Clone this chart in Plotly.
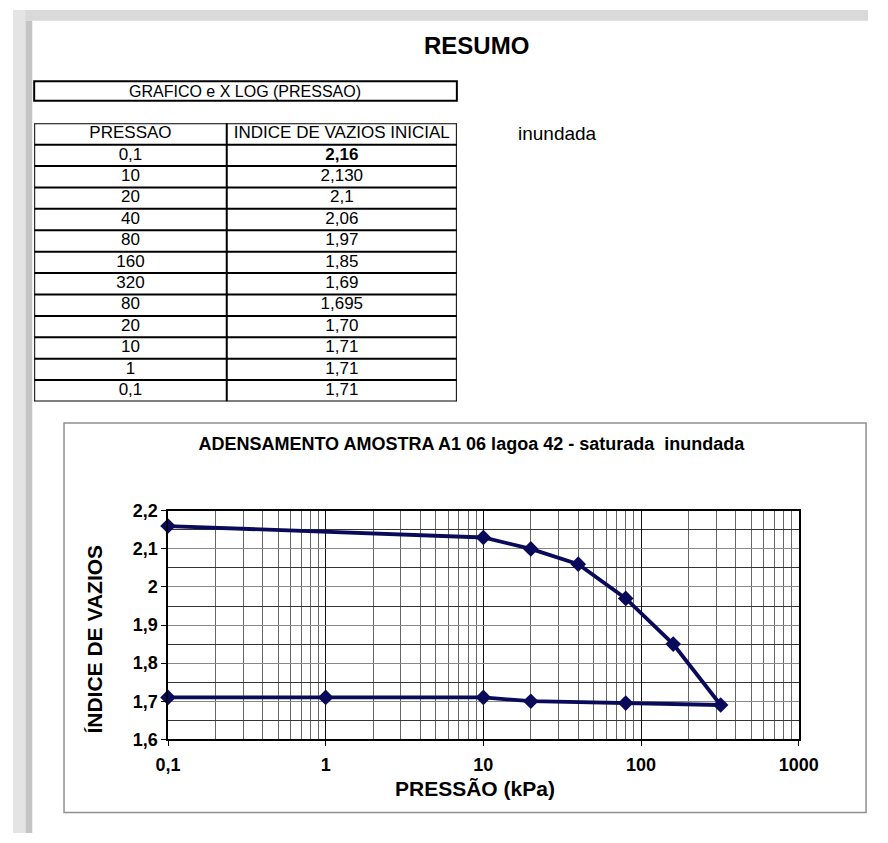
import plotly.graph_objects as go

# ---- data ----
pressao = [0.1, 10, 20, 40, 80, 160, 320, 80, 20, 10, 1, 0.1]
indice = [2.16, 2.13, 2.1, 2.06, 1.97, 1.85, 1.69, 1.695, 1.70, 1.71, 1.71, 1.71]
pressao_txt = ["0,1", "10", "20", "40", "80", "160", "320", "80", "20", "10", "1", "0,1"]
indice_txt = ["<b>2,16</b>", "2,130", "2,1", "2,06", "1,97", "1,85", "1,69", "1,695", "1,70", "1,71", "1,71", "1,71"]
table_header = ["PRESSAO", "INDICE DE VAZIOS INICIAL"]
x_ticks = [0.1, 1, 10, 100, 1000]
x_ticktext = ["0,1", "1", "10", "100", "1000"]
x_minor = [m * d for d in [0.1, 1, 10, 100] for m in range(2, 10)]
y_ticks = [1.6, 1.7, 1.8, 1.9, 2.0, 2.1, 2.2]
y_ticktext = ["1,6", "1,7", "1,8", "1,9", "2", "2,1", "2,2"]
y_minor = [1.65, 1.75, 1.85, 1.95, 2.05, 2.15]

W, H = 888, 843
def px(x): return x / W
def py(y): return 1 - y / H

ARIAL = "Liberation Sans, Arial, sans-serif"
NAVY = "#0a0a5a"

fig = go.Figure()

# ---------- table drawn on its own hidden axes ----------
col_w = [200, 239]
col_edges = [0, col_w[0], col_w[0] + col_w[1]]
col_mid = [(col_edges[i] + col_edges[i + 1]) / 2 for i in range(2)]
n = len(pressao_txt)
rows = list(range(n))

fig.add_trace(go.Scatter(
    x=[col_mid[0]] * n + [col_mid[1]] * n, y=rows + rows,
    text=pressao_txt + indice_txt, mode="text",
    textfont=dict(family=ARIAL, size=17, color="black"),
    xaxis="x2", yaxis="y2", showlegend=False, hoverinfo="skip",
))
fig.add_trace(go.Scatter(
    x=col_mid, y=[-1, -1], text=table_header, mode="text",
    textfont=dict(family=ARIAL, size=17, color="black"),
    xaxis="x2", yaxis="y2", showlegend=False, hoverinfo="skip",
))

# ---------- chart ----------
fig.add_trace(go.Scatter(
    x=pressao, y=indice, mode="lines+markers",
    line=dict(color=NAVY, width=3.8),
    marker=dict(symbol="diamond", size=12, color=NAVY),
    showlegend=False, cliponaxis=False,
))

axis_font = dict(family=ARIAL, size=18, color="black", weight="bold")
title_font = dict(family=ARIAL, size=21, color="black", weight="bold")

fig.update_layout(
    xaxis=dict(
        type="log", range=[-1, 3], domain=[px(161), px(816)],
        tickvals=x_ticks, ticktext=x_ticktext, tickfont=axis_font,
        ticks="outside", ticklen=5, tickcolor="black", ticklabelstandoff=3,
        showgrid=True, gridcolor="#111111", gridwidth=1,
        minor=dict(tickvals=x_minor, showgrid=True, gridcolor="#666666", gridwidth=1, ticks=""),
        showline=True, linecolor="black", linewidth=1.5, mirror=True,
        zeroline=False, anchor="y",
    ),
    yaxis=dict(
        range=[1.6, 2.2], domain=[py(747), py(513)],
        tickvals=y_ticks, ticktext=y_ticktext, tickfont=axis_font,
        ticks="outside", ticklen=5, tickcolor="black",
        showgrid=True, gridcolor="#888888", gridwidth=1,
        minor=dict(tickvals=y_minor, showgrid=True, gridcolor="#333333", gridwidth=1, ticks=""),
        showline=True, linecolor="black", linewidth=1.5, mirror=True,
        zeroline=False, anchor="x",
    ),
    xaxis2=dict(domain=[px(22), px(461)], range=[col_edges[0], col_edges[-1]],
                visible=False, anchor="y2", fixedrange=True),
    yaxis2=dict(domain=[py(401), py(116)], range=[n - 0.5, -1.5],
                visible=False, anchor="x2", fixedrange=True),
)

shapes = [
    # page shadow (top and left)
    dict(type="rect", xref="paper", yref="paper", x0=0, x1=1, y0=py(11), y1=1,
         fillcolor="#d9d9d9", line=dict(width=0), layer="below"),
    dict(type="rect", xref="paper", yref="paper", x0=0, x1=px(13), y0=0, y1=1,
         fillcolor="#e4e4e4", line=dict(width=0), layer="below"),
    dict(type="rect", xref="paper", yref="paper", x0=px(13), x1=px(20), y0=0, y1=py(11),
         fillcolor="#c4c4c4", line=dict(width=0), layer="below"),
    # title box above the table
    dict(type="rect", xref="paper", yref="paper", x0=px(22), x1=px(461), y0=py(93), y1=py(73),
         fillcolor="white", line=dict(color="black", width=2)),
    # chart frame
    dict(type="rect", xref="paper", yref="paper", x0=px(53), x1=px(886), y0=py(822), y1=py(423),
         fillcolor="rgba(0,0,0,0)", line=dict(color="#909090", width=1.5), layer="below"),
]
# table grid lines
for i in range(-1, n + 1):
    shapes.append(dict(type="line", xref="x2", yref="y2", x0=col_edges[0], x1=col_edges[-1],
                       y0=i - 0.5, y1=i - 0.5, line=dict(color="black", width=2)))
for e in col_edges:
    shapes.append(dict(type="line", xref="x2", yref="y2", x0=e, x1=e,
                       y0=-1.5, y1=n - 0.5, line=dict(color="black", width=2)))

annotations = [
    dict(text="<b>RESUMO</b>", x=px(481), y=py(36), xref="paper", yref="paper",
         showarrow=False, xanchor="center", yanchor="middle",
         font=dict(family=ARIAL, size=24, color="black")),
    dict(text="GRAFICO e X LOG (PRESSAO)", x=px(241), y=py(83), xref="paper", yref="paper",
         showarrow=False, xanchor="center", yanchor="middle",
         font=dict(family=ARIAL, size=16, color="black")),
    dict(text="inundada", x=px(565), y=py(127), xref="paper", yref="paper",
         showarrow=False, xanchor="center", yanchor="middle",
         font=dict(family=ARIAL, size=19, color="black")),
    dict(text="PRESSÃO (kPa)", x=px(480), y=py(797), xref="paper", yref="paper",
         showarrow=False, xanchor="center", yanchor="middle", font=title_font),
    dict(text="ÍNDICE DE VAZIOS", x=px(85), y=py(644), xref="paper", yref="paper",
         showarrow=False, xanchor="center", yanchor="middle", textangle=-90, font=title_font),
]

fig.update_layout(
    width=W, height=H, autosize=False,
    margin=dict(l=0, r=0, t=0, b=0),
    paper_bgcolor="white", plot_bgcolor="white",
    title=dict(text="ADENSAMENTO AMOSTRA A1 06 lagoa 42 - saturada  inundada",
               x=px(476), y=py(444), xref="paper", yref="paper",
               xanchor="center", yanchor="middle",
               font=dict(family=ARIAL, size=18, color="black", weight="bold")),
    shapes=shapes, annotations=annotations,
    showlegend=False,
)

fig.write_html("out.html", config={"displayModeBar": False},
               post_script="document.body.style.margin='0px';")
